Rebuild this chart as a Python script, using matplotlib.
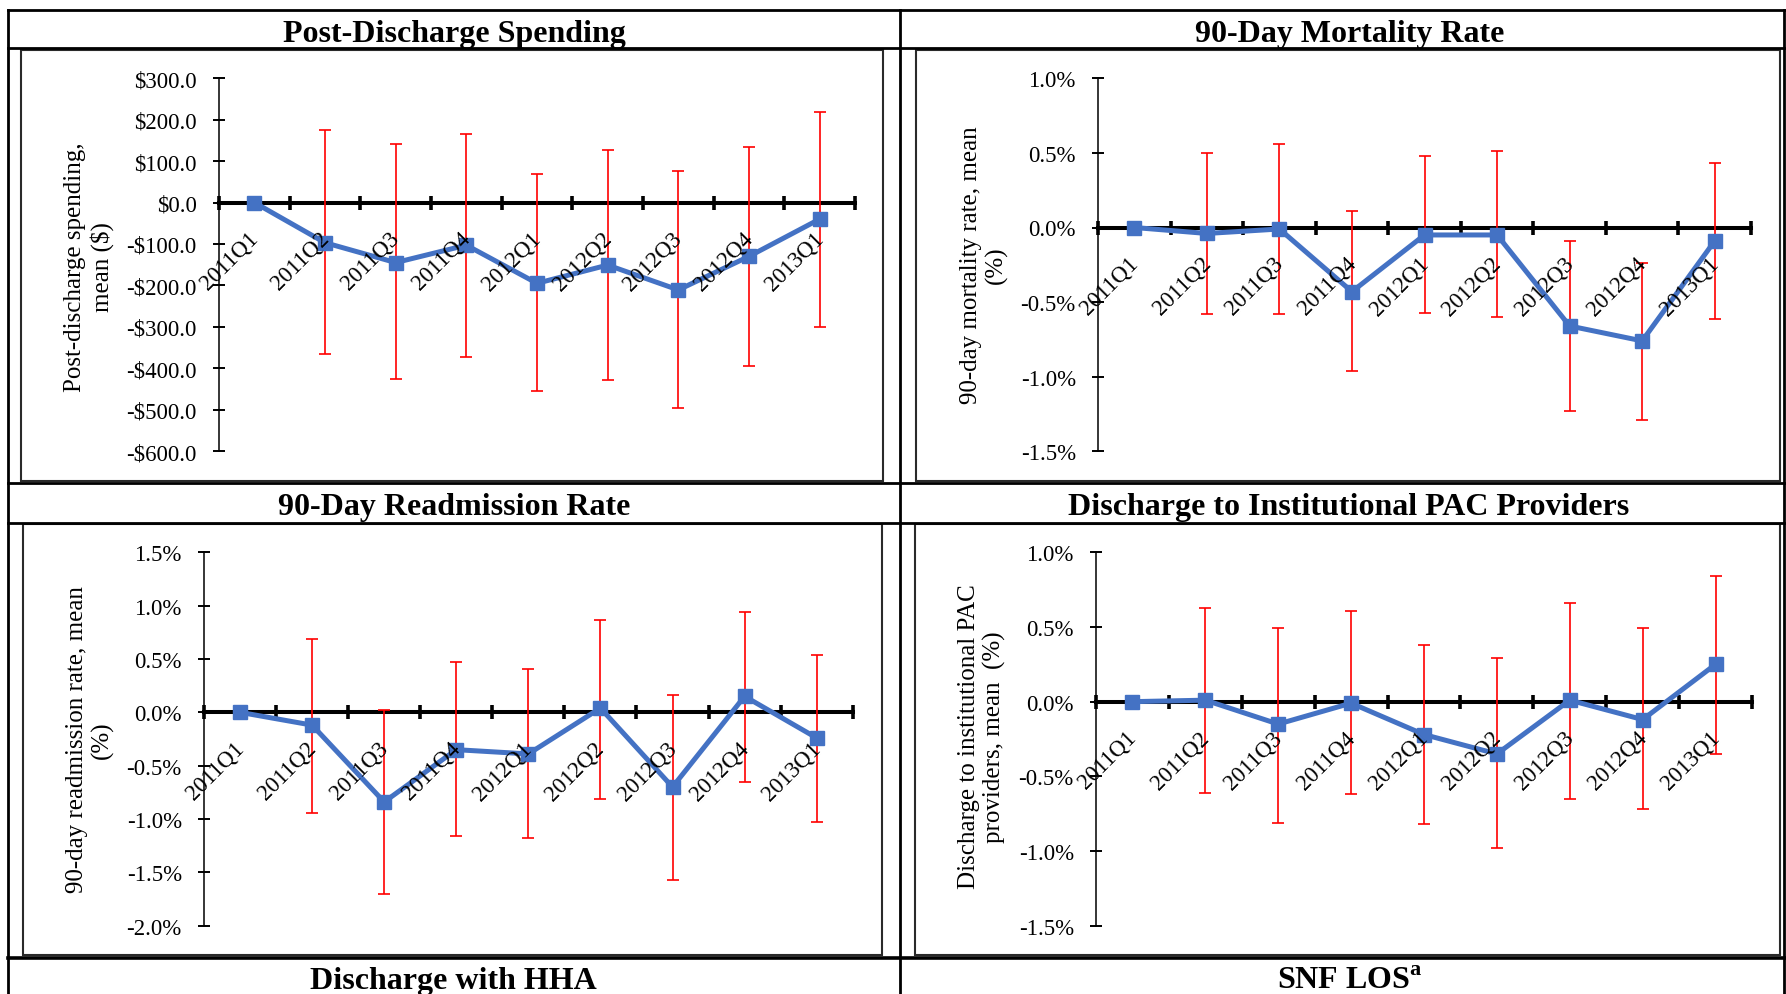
import matplotlib
matplotlib.use('Agg')
import matplotlib.pyplot as plt
from matplotlib.lines import Line2D
from matplotlib.patches import Rectangle
from matplotlib.ticker import FuncFormatter, MultipleLocator
import numpy as np

plt.rcParams['font.family'] = ['Liberation Serif', 'DejaVu Serif']
plt.rcParams['mathtext.fontset'] = 'custom'
plt.rcParams['mathtext.bf'] = 'Liberation Serif:bold'
plt.rcParams['mathtext.rm'] = 'Liberation Serif'

quarters = ['2011Q1', '2011Q2', '2011Q3', '2011Q4', '2012Q1',
            '2012Q2', '2012Q3', '2012Q4', '2013Q1']

# post-discharge spending ($), mean with 95% CI
spend_mean = [0, -97, -145, -103, -195, -151, -211, -130, -40]
spend_hi = [None, 175, 141, 165, 70, 126, 76, 133, 219]
spend_lo = [None, -365, -427, -373, -455, -428, -495, -395, -300]

# 90-day mortality rate (%)
mort_mean = [0, -0.04, -0.01, -0.43, -0.05, -0.05, -0.66, -0.76, -0.09]
mort_hi = [None, 0.50, 0.56, 0.11, 0.48, 0.51, -0.09, -0.24, 0.43]
mort_lo = [None, -0.58, -0.58, -0.96, -0.57, -0.60, -1.23, -1.29, -0.61]

# 90-day readmission rate (%)
readm_mean = [0, -0.12, -0.84, -0.35, -0.39, 0.04, -0.70, 0.15, -0.24]
readm_hi = [None, 0.69, 0.02, 0.47, 0.41, 0.87, 0.16, 0.94, 0.54]
readm_lo = [None, -0.94, -1.70, -1.16, -1.18, -0.81, -1.57, -0.65, -1.03]

# discharge to institutional PAC providers (%)
pac_mean = [0, 0.01, -0.15, -0.01, -0.22, -0.35, 0.01, -0.12, 0.25]
pac_hi = [None, 0.63, 0.49, 0.61, 0.38, 0.29, 0.66, 0.49, 0.84]
pac_lo = [None, -0.61, -0.81, -0.62, -0.82, -0.98, -0.65, -0.72, -0.35]

W, H = 1786, 995


def fx(x):
    return x / W


def fy(y):
    return 1 - y / H


def dollar(v, pos=None):
    if abs(v) < 1e-9:
        return '$0.0'
    if v < 0:
        return '-$%.1f' % abs(v)
    return '$%.1f' % v


def pct(v, pos=None):
    if abs(v) < 1e-9:
        return '0.0%'
    return '%.1f%%' % v


fig = plt.figure(figsize=(W / 100, H / 100), dpi=100)

# table grid
for y in [11, 49, 484, 524, 959]:
    lw = 2.6 if y == 959 else 2.0
    fig.add_artist(Line2D([fx(8), fx(1785)], [fy(y), fy(y)],
                          transform=fig.transFigure, color='black', lw=lw))
for x in [8, 900, 1784]:
    fig.add_artist(Line2D([fx(x), fx(x)], [fy(11), fy(995)],
                          transform=fig.transFigure, color='black', lw=2.0))

frames = [(21, 51, 883, 482), (916, 51, 1780, 482),
          (23, 525, 882, 956), (915, 525, 1780, 956)]
for x0, y0, x1, y1 in frames:
    fig.add_artist(Rectangle((fx(x0), fy(y1)), (x1 - x0) / W, (y1 - y0) / H,
                             transform=fig.transFigure, fill=False,
                             ec='#2a2a2a', lw=1.5))

titles = [('Post-Discharge Spending', 454, 42),
          ('90-Day Mortality Rate', 1350, 42),
          ('90-Day Readmission Rate', 454, 515),
          ('Discharge to Institutional PAC Providers', 1349, 515),
          ('Discharge with HHA', 453, 989),
          (r'SNF LOS$^{\mathbf{a}}$', 1350, 989)]
for t, x, y in titles:
    fig.text(fx(x), fy(y), t, ha='center', va='baseline',
             fontsize=23, fontweight='bold')

panels = [
    (spend_mean, spend_hi, spend_lo, (219, 79.3, 855, 452), (-600, 300), 100,
     dollar, 'Post-discharge spending,\nmean ($)', (89, 267)),
    (mort_mean, mort_hi, mort_lo, (1098, 79.3, 1751, 452.3), (-1.5, 1.0), 0.5,
     pct, '90-day mortality rate, mean\n(%)', (984, 265)),
    (readm_mean, readm_hi, readm_lo, (204, 553.3, 852.7, 926.7), (-2.0, 1.5), 0.5,
     pct, '90-day readmission rate, mean\n(%)', (90, 740)),
    (pac_mean, pac_hi, pac_lo, (1096, 553.3, 1752, 926.7), (-1.5, 1.0), 0.5,
     pct, 'Discharge to institutional PAC\nproviders, mean  (%)', (982, 737)),
]

x = np.arange(len(quarters)) + 0.5

for mean, hi, lo, box, ylim, step, fmt, ylab, labpos in panels:
    x0, y0, x1, y1 = box
    ax = fig.add_axes([fx(x0), fy(y1), (x1 - x0) / W, (y1 - y0) / H])
    ax.set_xlim(0, len(quarters))
    ax.set_ylim(*ylim)
    ax.patch.set_alpha(0)

    idx = [i for i in range(len(mean)) if hi[i] is not None]
    ex = [x[i] for i in idx]
    ey = [mean[i] for i in idx]
    err = [[mean[i] - lo[i] for i in idx], [hi[i] - mean[i] for i in idx]]
    ax.errorbar(ex, ey, yerr=err, fmt='none', ecolor='#ff0000',
                elinewidth=1.2, capsize=4.5, capthick=1.2, zorder=2.7)
    ax.plot(x, mean, color='#4472C4', lw=3.6, marker='s', ms=10.5,
            zorder=3, clip_on=False)

    for s in ['top', 'right']:
        ax.spines[s].set_visible(False)
    ax.spines['bottom'].set_position(('data', 0))
    ax.spines['bottom'].set_linewidth(2.9)
    ax.spines['left'].set_linewidth(1.1)

    ax.set_xticks(np.arange(len(quarters) + 1))
    ax.tick_params(axis='x', direction='inout', length=9.5, width=2.6,
                   labelbottom=False)
    ax.yaxis.set_major_locator(MultipleLocator(step))
    ax.yaxis.set_major_formatter(FuncFormatter(fmt))
    ax.tick_params(axis='y', direction='inout', length=8, width=1.4,
                   pad=12, labelsize=16.5)

    for xi, q in zip(x, quarters):
        ax.annotate(q, (xi, 0), xytext=(-5, -18), textcoords='offset points',
                    rotation=45, ha='right', va='top', rotation_mode='anchor',
                    fontsize=16.5, zorder=5, annotation_clip=False)

    fig.text(fx(labpos[0]), fy(labpos[1]), ylab, rotation=90, ha='center',
             va='center', multialignment='center', fontsize=18,
             linespacing=1.2)

fig.savefig('out.png', dpi=100)
